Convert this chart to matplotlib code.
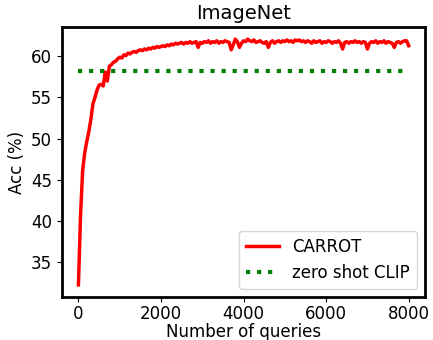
import numpy as np
import matplotlib
matplotlib.use('Agg')
import matplotlib.pyplot as plt

# number of queries (every 50) and CARROT accuracy
queries = list(range(0, 8001, 50))
carrot = [
    32.2, 40.5, 46.0, 48.2, 49.6, 50.8, 52.3, 54.2, 55.0, 55.9,
    56.5, 56.6, 56.4, 58.1, 57.0, 58.8, 59.0, 59.3, 59.4, 59.7,
    59.9, 59.8, 60.2, 60.1, 60.4, 60.3, 60.5, 60.6, 60.5, 60.7,
    60.8, 60.7, 60.9, 60.8, 61.0, 60.9, 61.1, 61.0, 61.2, 61.1,
    61.2, 61.3, 61.2, 61.4, 61.3, 61.5, 61.4, 61.6, 61.5, 61.6,
    61.7, 61.5, 61.7, 61.6, 61.8, 61.6, 61.7, 61.8, 61.1, 61.7,
    61.6, 61.8, 61.7, 61.9, 61.6, 61.8, 61.7, 61.9, 61.6, 61.8,
    61.7, 61.9, 61.8, 61.7, 60.8, 61.4, 62.1, 61.8, 61.1, 61.6,
    61.9, 61.8, 62.1, 61.9, 61.8, 62.0, 61.7, 61.8, 61.9, 61.7,
    61.6, 61.8, 61.1, 61.7, 61.9, 61.6, 61.8, 61.9, 61.7, 61.9,
    61.8, 62.0, 61.8, 61.9, 61.7, 62.0, 61.9, 62.0, 61.8, 61.9,
    61.7, 61.9, 61.8, 61.6, 61.9, 61.7, 61.8, 61.9, 61.6, 61.8,
    61.7, 61.9, 61.8, 61.6, 61.8, 61.7, 61.9, 61.6, 60.9, 61.7,
    61.8, 61.6, 61.8, 61.7, 61.9, 61.7, 61.8, 61.6, 61.8, 61.7,
    60.9, 61.6, 61.8, 61.7, 61.9, 61.6, 61.8, 61.7, 61.9, 61.6,
    61.8, 61.7, 61.6, 61.1, 61.7, 61.8, 61.6, 61.8, 61.9, 61.9,
    61.3,
]
zero_shot = 58.2

fig = plt.figure(figsize=(4.33, 3.40), dpi=100)
ax = fig.add_axes([0.143, 0.126, 0.839, 0.795])

ax.plot(queries, carrot, color='red', linewidth=2.5, label='CARROT')
ax.plot(queries, [zero_shot] * len(queries), color='green', linestyle=':',
        linewidth=3, label='zero shot CLIP')

ax.set_title('ImageNet', fontsize=14)
ax.set_xlabel('Number of queries', fontsize=12, labelpad=0)
ax.set_ylabel('Acc (%)', fontsize=12)
ax.set_xticks([0, 2000, 4000, 6000, 8000])
ax.set_yticks([35, 40, 45, 50, 55, 60])
ax.tick_params(labelsize=12)
ax.tick_params(axis='x', pad=2)
for s in ax.spines.values():
    s.set_linewidth(2)
ax.legend(loc='lower right', fontsize=12)

fig.savefig('out.png', dpi=100)
